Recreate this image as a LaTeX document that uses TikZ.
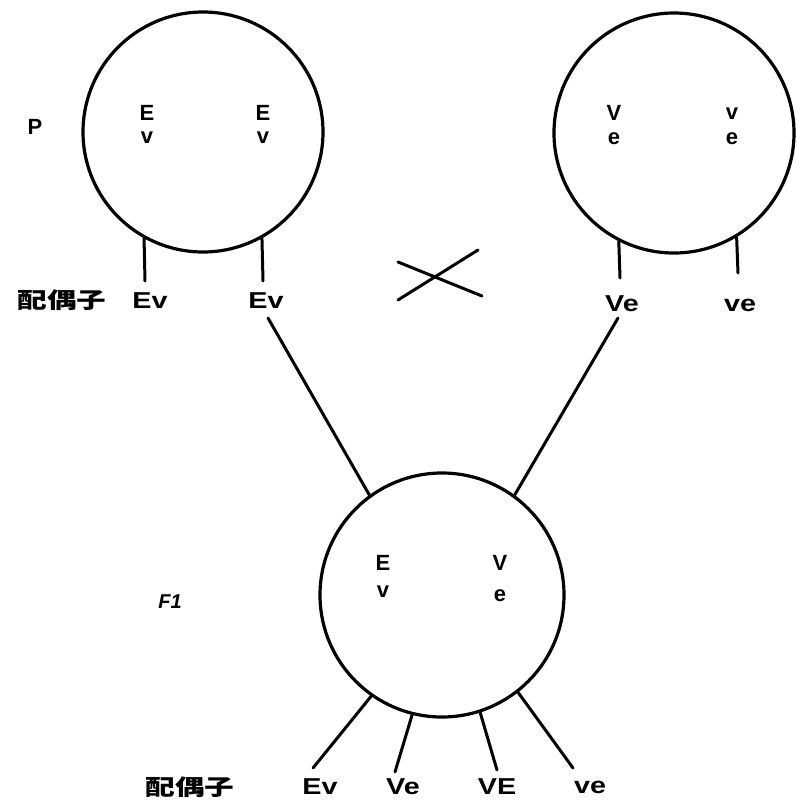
\documentclass[tikz,border=0pt]{standalone}
\usepackage{fontspec}
\setmainfont{Liberation Sans}
\newfontfamily\cjk{Noto Sans CJK SC}
\begin{document}
\begin{tikzpicture}[x=1pt,y=-1pt,
  cell/.style={circle, draw, line width=3.2pt, minimum size=#1, inner sep=0pt},
  lbl/.style={font=\fontsize{22}{22}\selectfont\bfseries, inner sep=0pt},
  glbl/.style={font=\fontsize{23}{23}\selectfont\bfseries, inner sep=0pt, xscale=1.25},
  cjklbl/.style={font=\cjk\fontsize{22}{22}\selectfont\bfseries, inner sep=0pt, xscale=1.35},
  conn/.style={line width=3pt, line cap=round}]
\useasboundingbox (0,0) rectangle (797,803);
% circles
\node[cell=240pt] (P1) at (203,132) {};
\node[cell=240pt] (P2) at (674,133) {};
\node[cell=244pt] (F1) at (442,595) {};
% generation labels
\node[lbl] (pl) at (35,127) {P};
\node[lbl, font=\fontsize{20}{20}\selectfont\bfseries\itshape] (fl) at (170,602) {F1};
% chromosomes in P1
\node[lbl] (a1) at (147,113) {E};
\node[lbl] (a2) at (147,138) {v};
\node[lbl] (a3) at (263,113) {E};
\node[lbl] (a4) at (263,138) {v};
% chromosomes in P2
\node[lbl] (b1) at (614,113) {V};
\node[lbl] (b2) at (614,139) {e};
\node[lbl] (b3) at (732,114) {v};
\node[lbl] (b4) at (732,139) {e};
% chromosomes in F1
\node[lbl] (c1) at (383,563) {E};
\node[lbl] (c2) at (383,592) {v};
\node[lbl] (c3) at (500,563) {V};
\node[lbl] (c4) at (500,596) {e};
% P gametes
\node[cjklbl] (gp) at (62,300) {配偶子};
\node[glbl] (g1) at (150,301) {Ev};
\node[glbl] (g2) at (266,301) {Ev};
\node[glbl] (g3) at (622,304) {Ve};
\node[glbl] (g4) at (740,305) {ve};
\coordinate (t1) at (145,281);
\coordinate (t2) at (263,281);
\coordinate (t3) at (620,278);
\coordinate (t4) at (738,273);
\draw[conn] (P1.241) -- (t1);
\draw[conn] (P1.299) -- (t2);
\draw[conn] (P2.243) -- (t3);
\draw[conn] (P2.301) -- (t4);
% cross sign
\coordinate (x1) at (398,262);
\coordinate (x2) at (482,296);
\coordinate (x3) at (478,250);
\coordinate (x4) at (398,300);
\draw[conn] (x1) -- (x2);
\draw[conn] (x3) -- (x4);
% fertilisation lines
\coordinate (u1) at (268,318);
\coordinate (u2) at (618,318);
\draw[conn] (u1) -- (F1.126);
\draw[conn] (u2) -- (F1.54);
% F1 gametes
\node[cjklbl] (gf) at (190,787) {配偶子};
\node[glbl] (h1) at (320,787) {Ev};
\node[glbl] (h2) at (403,787) {Ve};
\node[glbl] (h3) at (497,787) {VE};
\node[glbl] (h4) at (590,787) {ve};
\coordinate (s1) at (313,768);
\coordinate (s2) at (395,772);
\coordinate (s3) at (497,770);
\coordinate (s4) at (573,768);
\draw[conn] (F1.235) -- (s1);
\draw[conn] (F1.256) -- (s2);
\draw[conn] (F1.288) -- (s3);
\draw[conn] (F1.308) -- (s4);
\end{tikzpicture}
\end{document}
